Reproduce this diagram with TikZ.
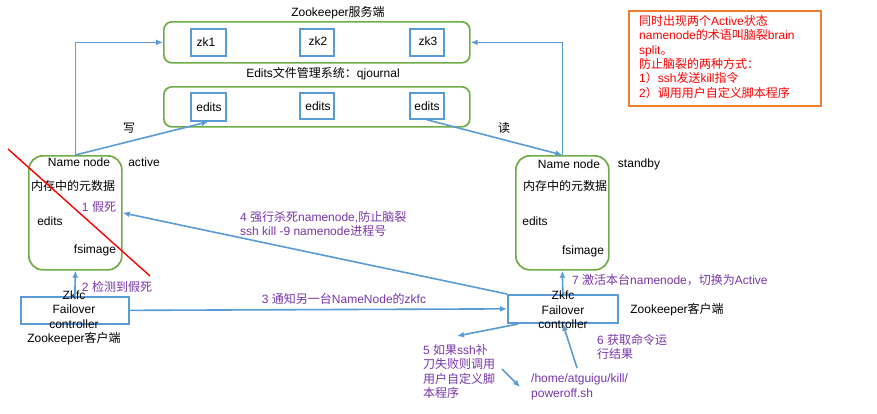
\documentclass[tikz,border=0pt]{standalone}
\usepackage{fontspec}
\setmainfont{Liberation Sans}
\newfontfamily\cjk{Noto Sans CJK SC}
\newcommand\zh[1]{{\cjk #1}}
\usetikzlibrary{arrows.meta}
\definecolor{grn}{HTML}{70AD47}
\definecolor{blu}{HTML}{5B9BD5}
\definecolor{pur}{HTML}{7836AA}
\definecolor{org}{HTML}{ED7D31}
\tikzset{
  grp/.style={draw=grn, line width=1.7pt, rounded corners=8pt, inner sep=0, anchor=north west},
  nnbox/.style={draw=grn, line width=1.7pt, rounded corners=14pt, inner sep=0, anchor=north west, minimum width=93pt, minimum height=114pt},
  sbox/.style={draw=blu, line width=1.7pt, inner sep=0, anchor=north west},
  conn/.style={draw=blu, line width=1.6pt, -{Latex[length=7pt,width=6pt]}},
  txt/.style={inner sep=0, font=\fontsize{12}{14.5}\selectfont},
  ptxt/.style={txt, text=pur},
}
\begin{document}
\begin{tikzpicture}[x=1pt,y=-1pt]
\useasboundingbox[fill=white] (0,0) rectangle (877,413);
% groups
\node[grp, minimum width=306pt, minimum height=41pt] (zkg) at (163,21) {};
\node[grp, minimum width=306pt, minimum height=40pt] (edg) at (163,86) {};
\node[txt] (zkt) at (338,13) {Zookeeper\zh{服务端}};
\node[txt] (edt) at (323,74) {Edits\zh{文件管理系统：}qjournal};
% zk boxes
\node[sbox, minimum width=35pt, minimum height=27pt] (zk1) at (190,28) {};
\node[sbox, minimum width=34pt, minimum height=27pt] (zk2) at (299,28) {};
\node[sbox, minimum width=34pt, minimum height=27pt] (zk3) at (409,28) {};
\node[txt] (zk1t) at (206,42) {zk1};
\node[txt] (zk2t) at (318,41) {zk2};
\node[txt] (zk3t) at (428,41) {zk3};
% edits boxes
\node[sbox, minimum width=35pt, minimum height=28pt] (ed1) at (190,92) {};
\node[sbox, minimum width=34pt, minimum height=26pt] (ed2) at (299,92) {};
\node[sbox, minimum width=34pt, minimum height=26pt] (ed3) at (409,92) {};
\node[txt] (ed1t) at (209,107) {edits};
\node[txt] (ed2t) at (318,106) {edits};
\node[txt] (ed3t) at (427,106) {edits};
% namenodes
\node[nnbox] (ann) at (28,155) {};
\node[nnbox] (snn) at (515,155) {};
\node[txt] (ann1) at (79,162) {Name node};
\node[txt] (ann2) at (144,162) {active};
\node[txt] (ann3) at (73,186) {\zh{内存中的元数据}};
\node[ptxt] (ann4) at (99,207) {1 \zh{假死}};
\node[txt] (ann5) at (50,221) {edits};
\node[txt] (ann6) at (95,250) {fsimage};
\node[txt] (snn1) at (569,164) {Name node};
\node[txt] (snn2) at (639,164) {standby};
\node[txt] (snn3) at (565,186) {\zh{内存中的元数据}};
\node[txt] (snn5) at (535,221) {edits};
\node[txt] (snn6) at (583,251) {fsimage};
% red cross line
\coordinate (r1) at (8,149);
\coordinate (r2) at (150,276);
\draw[red, line width=1.4pt] (r1) -- (r2);
% zkfc boxes
\node[sbox, minimum width=108pt, minimum height=27pt] (zl) at (20,296) {};
\node[sbox, minimum width=110pt, minimum height=28pt] (zr) at (507,294) {};
\node[txt, align=center] (zlt) at (74,318) {Zkfc\\Failover\\controller\\Zookeeper\zh{客户端}};
\node[txt, align=center] (zrt) at (563,310) {Zkfc\\Failover\\controller};
\node[txt] (zrc) at (677,310) {Zookeeper\zh{客户端}};
% connectors
\draw[conn] (ann.north) |- (zkg.west);
\draw[conn] (ann.north) -- (ed1.south);
\draw[conn] ([xshift=-18pt]ed3.south east) -- (snn.north);
\draw[conn] (snn.north) |- (zkg.east);
\draw[conn] (zl.north) -- (ann.south);
\draw[conn] (zl.east) -- (zr.west);
\draw[conn] (zr.north west) -- (ann.east);
\draw[conn] (zr.north) -- (snn.south);
\node[txt] (w) at (129,128) {\zh{写}};
\node[txt] (r) at (504,128) {\zh{读}};
\node[ptxt] (l2) at (117,287) {2 \zh{检测到假死}};
\node[ptxt] (l3) at (344,299) {3 \zh{通知另一台}NameNode\zh{的}zkfc};
\node[ptxt, anchor=north west, align=left] (l4) at (240,211) {4 \zh{强行杀死}namenode,\zh{防止脑裂}\\ssh kill -9 namenode\zh{进程号}};
\node[ptxt, anchor=west] (l7) at (572,280) {7 \zh{激活本台}namenode\zh{，切换为}Active};
\node[ptxt, anchor=north west, align=left] (l5) at (423,344) {5 \zh{如果}ssh\zh{补}\\\zh{刀失败则调用}\\\zh{用户自定义脚}\\\zh{本程序}};
\node[ptxt, anchor=north west, align=left] (l6) at (597,334) {6 \zh{获取命令运}\\\zh{行结果}};
\node[ptxt, anchor=north west, align=left] (ps) at (531,374) {/home/atguigu/kill/\\poweroff.sh};
\coordinate (a5s) at (518,324);
\coordinate (a5e) at (457,336);
\draw[conn] (a5s) -- (a5e);
\coordinate (a8s) at (502,369);
\coordinate (a8e) at (520,387);
\draw[conn] (a8s) -- (a8e);
\coordinate (a6s) at (577,368);
\draw[conn] (a6s) -- (zr.south);
% note box
\node[draw=org, line width=1.6pt, minimum width=192pt, minimum height=95pt, anchor=north west, inner sep=0] (note) at (628,10) {};
\node[txt, text=red, anchor=north west, align=left, font=\fontsize{12}{14.4}\selectfont] (notet) at (639,15) {\zh{同时出现两个}Active\zh{状态}\\namenode\zh{的术语叫脑裂}brain\\split\zh{。}\\\zh{防止脑裂的两种方式：}\\1\zh{）}ssh\zh{发送}kill\zh{指令}\\2\zh{）调用用户自定义脚本程序}};
\end{tikzpicture}
\end{document}
